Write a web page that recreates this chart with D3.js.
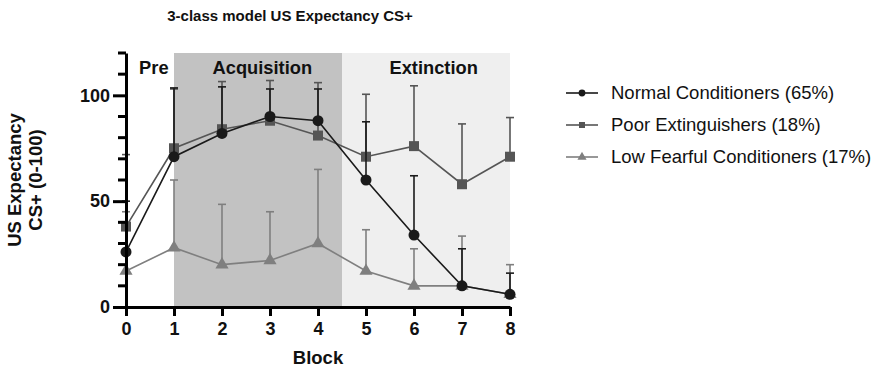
<!DOCTYPE html>
<html>
<head>
<meta charset="utf-8">
<script src="https://cdn.jsdelivr.net/npm/d3@7"></script>
<style>
  html, body { margin: 0; padding: 0; background: #fff; }
  svg { display: block; font-family: "Liberation Sans", Arial, Helvetica, sans-serif; }
</style>
</head>
<body>
<svg id="chart" width="878" height="373"></svg>
<script>
// Blocks on the x axis
const blocks = [0, 1, 2, 3, 4, 5, 6, 7, 8];

// Mean US expectancy per block, one array per latent class
const normalMean = [26, 71, 82, 90, 88, 60, 34, 10, 6];
const poorMean   = [38, 75, 84, 88, 81, 71, 76, 58, 71];
const lowMean    = [17, 28, 20, 22, 30, 17, 10, 10, 6];

// Upper end of each error bar (mean + SD)
const normalUpper = [50, 103.5, 104, 103, 103, 87.5, 62, 27.5, 16];
const poorUpper   = [72, 103, 106.5, 107, 106, 100.5, 104.5, 86.5, 89.5];
const lowUpper    = [45, 60, 48.5, 45, 65, 36.5, 27.5, 33.5, 20];

const seriesNames = ["Normal Conditioners (65%)", "Poor Extinguishers (18%)", "Low Fearful Conditioners (17%)"];
const yTicksMajor = [0, 50, 100];
const yTicksMinor = [10, 20, 30, 40, 60, 70, 80, 90, 110, 120];

// Experimental phases shaded behind the data
const phases = [
  { name: "Pre", from: 0, to: 1, fill: null, labelX: 0.58 },
  { name: "Acquisition", from: 1, to: 4.5, fill: "#c2c2c2", labelX: 2.84 },
  { name: "Extinction", from: 4.5, to: 8, fill: "#efefef", labelX: 6.41 }
];

const series = [
  { name: seriesNames[2], mean: lowMean, upper: lowUpper, color: "#7f7f7f", shape: "triangle" },
  { name: seriesNames[1], mean: poorMean, upper: poorUpper, color: "#555555", shape: "square" },
  { name: seriesNames[0], mean: normalMean, upper: normalUpper, color: "#1a1a1a", shape: "circle" }
];

const svg = d3.select("#chart");
const x = d3.scaleLinear().domain([0, 8]).range([126, 510]);
const y = d3.scaleLinear().domain([0, 120]).range([307, 53]);

// Phase shading
svg.append("g").selectAll("rect")
  .data(phases.filter(p => p.fill))
  .join("rect")
  .attr("x", d => x(d.from))
  .attr("width", d => x(d.to) - x(d.from))
  .attr("y", y(120))
  .attr("height", y(0) - y(120))
  .attr("fill", d => d.fill);

// Phase labels
svg.append("g").selectAll("text")
  .data(phases)
  .join("text")
  .attr("x", d => x(d.labelX))
  .attr("y", 74)
  .attr("text-anchor", "middle")
  .attr("font-weight", "bold")
  .attr("font-size", 18.3)
  .attr("fill", "#111")
  .text(d => d.name);

function marker(sel, shape, size, color) {
  const sym = shape === "circle" ? d3.symbolCircle : shape === "square" ? d3.symbolSquare : d3.symbolTriangle;
  sel.append("path")
    .attr("d", d3.symbol().type(sym).size(size))
    .attr("fill", color);
}

const markerSize = { circle: 95, square: 100, triangle: 75 };

series.forEach(s => {
  const g = svg.append("g");
  const pts = blocks.map((b, i) => ({ b, m: s.mean[i], u: s.upper[i] }));
  // error bars (upper only)
  const eb = g.append("g").attr("stroke", s.color).attr("stroke-width", 1.6);
  eb.selectAll("line.v").data(pts).join("line").attr("class", "v")
    .attr("x1", d => x(d.b)).attr("x2", d => x(d.b))
    .attr("y1", d => y(d.m)).attr("y2", d => y(d.u));
  eb.selectAll("line.c").data(pts).join("line").attr("class", "c")
    .attr("x1", d => x(d.b) - 4).attr("x2", d => x(d.b) + 4)
    .attr("y1", d => y(d.u)).attr("y2", d => y(d.u));
  // line
  g.append("path")
    .datum(pts)
    .attr("fill", "none")
    .attr("stroke", s.color)
    .attr("stroke-width", 1.6)
    .attr("d", d3.line().x(d => x(d.b)).y(d => y(d.m)));
  // markers
  g.selectAll("g.pt").data(pts).join("g").attr("class", "pt")
    .attr("transform", d => `translate(${x(d.b)},${y(d.m)})`)
    .each(function () { marker(d3.select(this), s.shape, markerSize[s.shape], s.color); });
});

// Y axis
const yAxis = svg.append("g").attr("transform", `translate(${x(0)},0)`);
yAxis.call(d3.axisLeft(y).tickValues(yTicksMajor).tickSize(13).tickPadding(3).tickSizeOuter(0));
yAxis.select(".domain").attr("stroke", "#000").attr("stroke-width", 3);
yAxis.selectAll(".tick line").attr("stroke", "#000").attr("stroke-width", 3);
yAxis.selectAll(".tick text").attr("font-size", 18).attr("font-weight", "bold").attr("fill", "#111")
  .attr("font-family", "Liberation Sans, Arial, sans-serif");
yAxis.append("g").selectAll("line").data(yTicksMinor).join("line")
  .attr("x1", -8).attr("x2", 0).attr("y1", d => y(d)).attr("y2", d => y(d))
  .attr("stroke", "#000").attr("stroke-width", 3);

// X axis
const xAxis = svg.append("g").attr("transform", `translate(0,${y(0)})`);
xAxis.call(d3.axisBottom(x).tickValues(blocks).tickFormat(d3.format("d")).tickSize(9).tickPadding(6).tickSizeOuter(0));
xAxis.select(".domain").attr("stroke", "#000").attr("stroke-width", 3);
xAxis.selectAll(".tick line").attr("stroke", "#000").attr("stroke-width", 3);
xAxis.selectAll(".tick text").attr("font-size", 18).attr("font-weight", "bold").attr("fill", "#111")
  .attr("font-family", "Liberation Sans, Arial, sans-serif");

// Axis titles
svg.append("text")
  .attr("x", 318).attr("y", 364)
  .attr("text-anchor", "middle").attr("font-weight", "bold").attr("font-size", 18.5).attr("fill", "#111")
  .text("Block");

const yTitle = svg.append("text")
  .attr("transform", `translate(21,${y(60)}) rotate(-90)`)
  .attr("text-anchor", "middle").attr("font-weight", "bold").attr("font-size", 18.5).attr("fill", "#111");
yTitle.append("tspan").attr("x", 0).attr("dy", 0).text("US Expectancy");
yTitle.append("tspan").attr("x", 0).attr("dy", 21).text("CS+ (0-100)");

// Chart title
svg.append("text")
  .attr("x", 290).attr("y", 21)
  .attr("text-anchor", "middle").attr("font-weight", "bold").attr("font-size", 15).attr("fill", "#111")
  .text("3-class model US Expectancy CS+");

// Legend
const legendItems = [series[2], series[1], series[0]];
const legend = svg.append("g").attr("transform", "translate(566,93)");
legendItems.forEach((s, i) => {
  const row = legend.append("g").attr("transform", `translate(0,${i * 32})`);
  row.append("line").attr("x1", 0).attr("x2", 32).attr("y1", 0).attr("y2", 0)
    .attr("stroke", s.color).attr("stroke-width", 1.6);
  const m = row.append("g").attr("transform", "translate(16,0)");
  marker(m, s.shape, 36, s.color);
  row.append("text").attr("x", 45).attr("y", 0).attr("dy", "0.35em")
    .attr("font-size", 18.5).attr("fill", "#111").text(s.name);
});
</script>
</body>
</html>
